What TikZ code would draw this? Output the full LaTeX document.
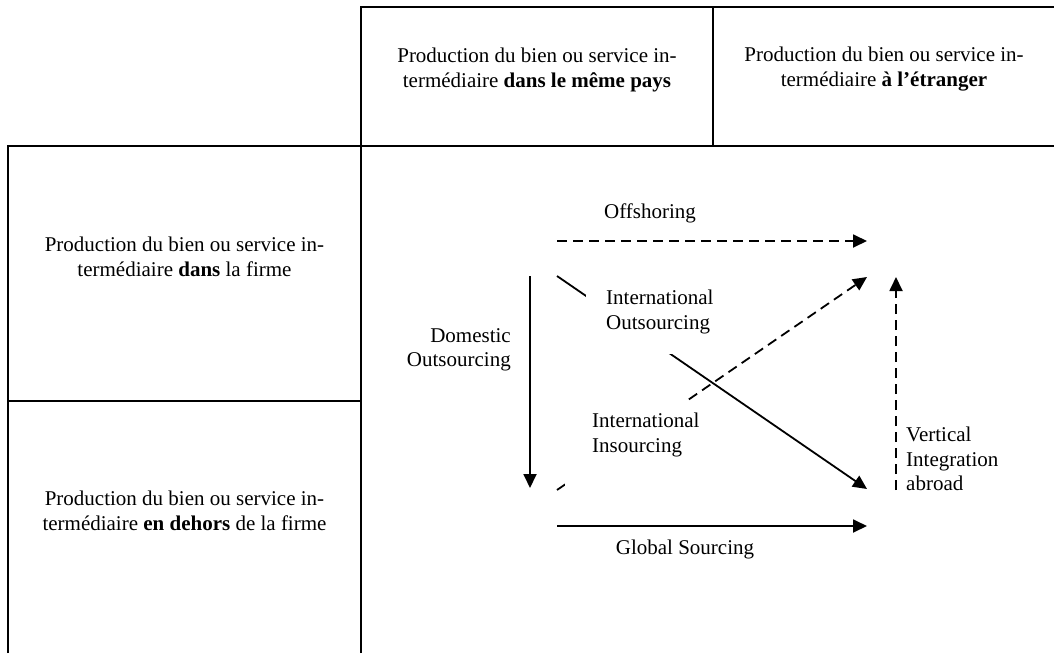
\documentclass[tikz,border=0pt]{standalone}
\usepackage{fontspec}
\setmainfont{Liberation Serif}
\usetikzlibrary{arrows.meta}
\tikzset{
  grid/.style={line width=2pt, black},
  txt/.style={inner sep=0pt, font=\fontsize{21}{25}\selectfont, align=center},
  ltxt/.style={inner sep=0pt, font=\fontsize{21}{24.5}\selectfont, align=left},
  conn/.style={line width=1.8pt, -{Triangle[length=14pt,width=13pt]}},
  dashconn/.style={conn, dash pattern=on 10pt off 6pt},
  mask/.style={fill=white}
}
\begin{document}
\begin{tikzpicture}[x=1pt,y=-1pt]
\useasboundingbox (0,0) rectangle (1054,653);
% table
\draw[grid] (361,653) -- (361,7) -- (1054,7);
\draw[grid] (713,7) -- (713,146);
\draw[grid] (8,653) -- (8,146) -- (1054,146);
\draw[grid] (8,401) -- (361,401);
% header texts
\node[txt] (hsame) at (537,69.5) {Production du bien ou service in-\\term\'ediaire \textbf{dans le m\^eme pays}};
\node[txt] (hfor) at (884,69.5) {Production du bien ou service in-\\term\'ediaire \textbf{\`a l'\'etranger}};
\node[txt] (hin) at (184.5,257) {Production du bien ou service in-\\term\'ediaire \textbf{dans} la firme};
\node[txt] (hout) at (184.5,511) {Production du bien ou service in-\\term\'ediaire \textbf{en dehors} de la firme};
% arrow end points
\coordinate (offA) at (557,241);
\coordinate (offB) at (867,241);
\coordinate (domA) at (530,276);
\coordinate (domB) at (530,488);
\coordinate (ioA) at (557,276);
\coordinate (ioB) at (867,489);
\coordinate (iiA) at (557,490);
\coordinate (iiB) at (867,277);
\coordinate (viA) at (896,490);
\coordinate (viB) at (896,277);
\coordinate (gsA) at (557,526);
\coordinate (gsB) at (867,526);
% connectors
\draw[dashconn] (offA) -- (offB);
\draw[conn] (domA) -- (domB);
\draw[conn] (ioA) -- (ioB);
\draw[dashconn] (iiA) -- (iiB);
\draw[dashconn] (viA) -- (viB);
\draw[conn] (gsA) -- (gsB);
% masks behind labels
\fill[mask] (586,268) rectangle (741,354);
\fill[mask] (565,401) rectangle (720,497);
% labels
\node[txt] (loff) at (650,213) {Offshoring};
\node[txt, align=right, anchor=east, font=\fontsize{21}{24.5}\selectfont] (ldom) at (511,350) {Domestic\\Outsourcing};
\node[ltxt, anchor=west] (lio) at (606,312) {International\\Outsourcing};
\node[ltxt, anchor=west] (lii) at (592,435) {International\\Insourcing};
\node[ltxt, anchor=west] (lvi) at (906,459) {Vertical\\Integration\\abroad};
\node[txt] (lgs) at (685,549) {Global Sourcing};
\end{tikzpicture}
\end{document}
